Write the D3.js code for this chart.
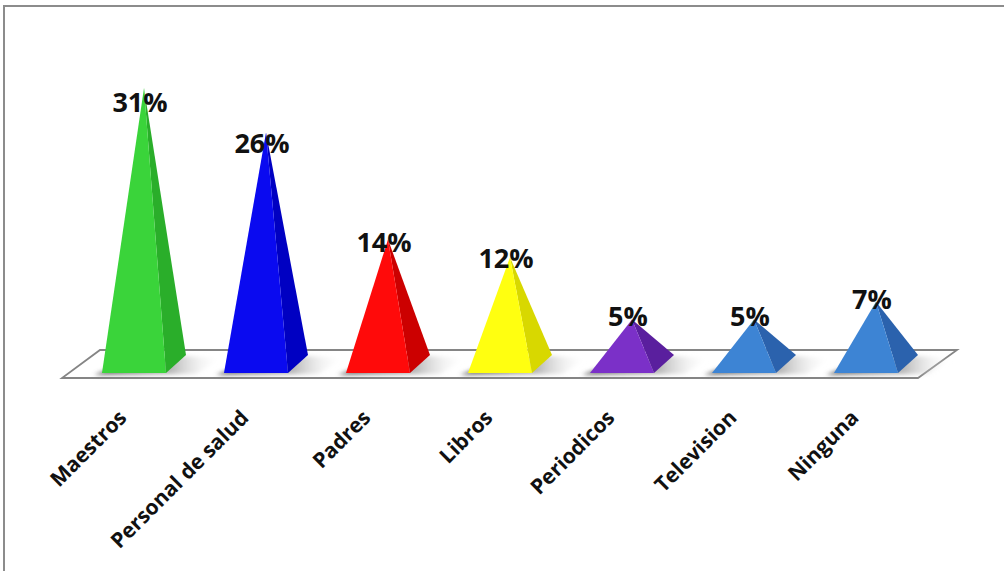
<!DOCTYPE html>
<html><head><meta charset="utf-8">
<script src="https://cdn.jsdelivr.net/npm/d3@7"></script>
<style>html,body{margin:0;padding:0;background:#fff}svg{display:block}</style>
</head><body><svg id="c" width="1004" height="571"></svg>
<script>
const categories = ["Maestros","Personal de salud","Padres","Libros","Periodicos","Television","Ninguna"];
const values = [31,26,14,12,5,5,7];
const valueLabels = ["31%","26%","14%","12%","5%","5%","7%"];
const faceColors = ["#3ad43a","#0a0af0","#ff0a0a","#ffff10","#7b30c8","#3d84d4","#3d84d4"];
const sideColors = ["#2aae2a","#0000c2","#cc0000","#d8d800","#5a1f9e","#2b62ad","#2b62ad"];

const svg = d3.select("#c");
const defs = svg.append("defs");
const sg = defs.append("linearGradient").attr("id","shadow").attr("x1","0").attr("x2","1").attr("y1","0").attr("y2","0");
sg.append("stop").attr("offset","0").attr("stop-color","#666").attr("stop-opacity",1);
sg.append("stop").attr("offset","0.6").attr("stop-color","#999").attr("stop-opacity",0.7);
sg.append("stop").attr("offset","1").attr("stop-color","#ffffff").attr("stop-opacity",0);
defs.append("filter").attr("id","blur").attr("x","-30%").attr("y","-50%").attr("width","160%").attr("height","200%")
  .append("feGaussianBlur").attr("stdDeviation",2.2);

// outer frame
svg.append("rect").attr("x",4).attr("y",6).attr("width",1020).attr("height",590)
  .attr("fill","#fff").attr("stroke","#8c8c8c").attr("stroke-width",2);

const x = d3.scaleBand().domain(categories).range([73,927]);
const y = d3.scaleLinear().domain([0,35]).range([364,52.5]);
const half = 32, frontY = 373, ddx = 20, ddy = -18;

// floor
svg.append("polygon")
  .attr("points",[[62,378],[918,378],[957,350],[100,350]].map(p=>p.join(",")).join(" "))
  .attr("fill","#fff").attr("stroke","#858585").attr("stroke-width",1.8);

const data = categories.map((c,i)=>({c, v:values[i], lab:valueLabels[i], fc:faceColors[i], sc:sideColors[i]}));
const g = svg.append("g");
data.forEach(d=>{
  const cx = x(d.c) + x.bandwidth()/2;
  const FL=[cx-half,frontY], FR=[cx+half,frontY], BR=[cx+half+ddx,frontY+ddy], AP=[cx+ddx/2,y(d.v)];
  // shadow
  g.append("polygon")
    .attr("points",[[cx-half+4,frontY-3],[BR[0]-4,BR[1]+1],[BR[0]+36,BR[1]+3],[FR[0]+30,frontY+1],[cx-half-8,frontY+2]].map(p=>p.join(",")).join(" "))
    .attr("fill","url(#shadow)").attr("filter","url(#blur)");
  g.append("polygon").attr("points",[FR,BR,AP].map(p=>p.join(",")).join(" ")).attr("fill",d.sc);
  g.append("polygon").attr("points",[FL,FR,AP].map(p=>p.join(",")).join(" ")).attr("fill",d.fc);
});

// value labels
svg.append("g").selectAll("text").data(data).join("text")
  .attr("x",d=>x(d.c)+x.bandwidth()/2+6)
  .attr("y",d=>y(d.v*0.925)+3)
  .attr("text-anchor","middle")
  .attr("font-family","'Open Sans', sans-serif").attr("font-weight","bold").attr("font-size",27)
  .attr("fill","#111").text(d=>d.lab);

// category labels
svg.append("g").selectAll("text").data(data).join("text")
  .attr("transform",d=>`translate(${x(d.c)+x.bandwidth()/2-6},419) rotate(-45)`)
  .attr("text-anchor","end")
  .attr("font-family","'Open Sans', sans-serif").attr("font-weight","bold").attr("font-size",21)
  .attr("fill","#111").text(d=>d.c);
</script></body></html>
